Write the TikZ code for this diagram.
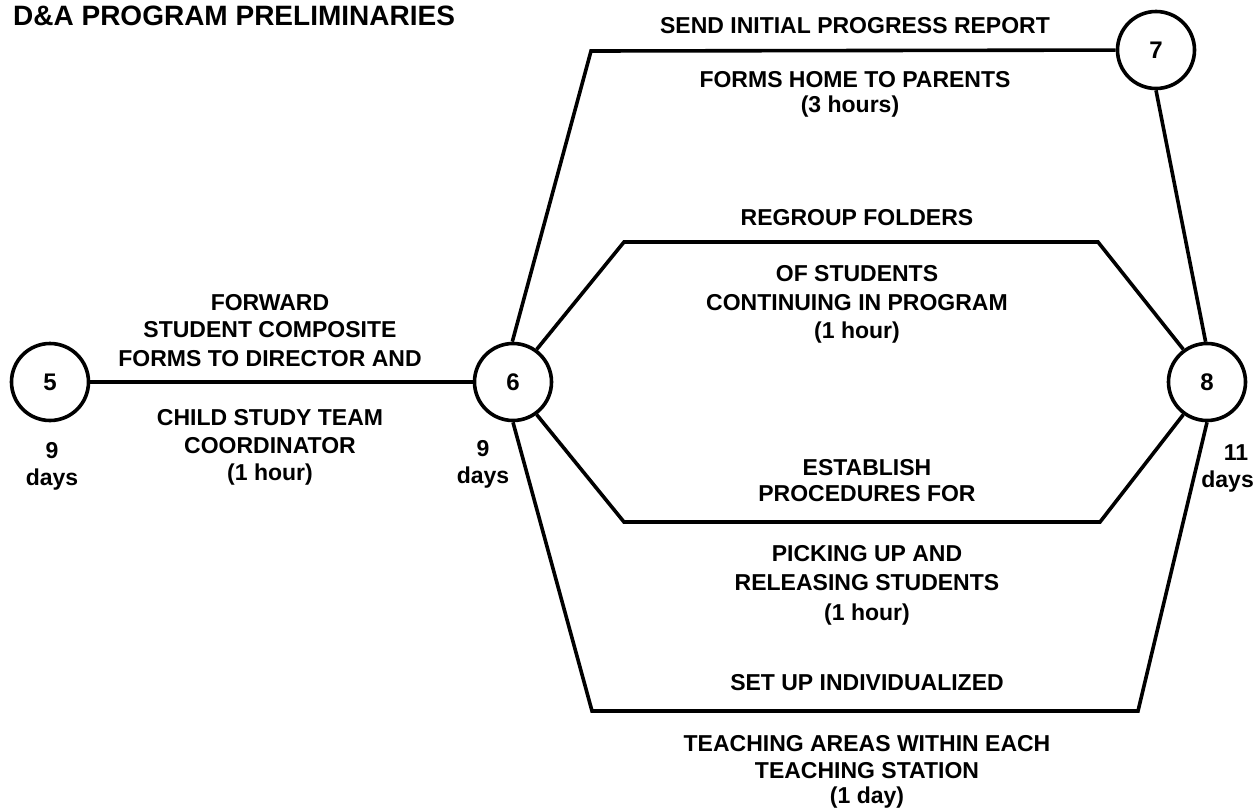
\documentclass[tikz,border=0pt]{standalone}
\usepackage{fontspec}
\setmainfont{Liberation Sans}
\begin{document}
\begin{tikzpicture}[x=1pt,y=-1pt,
  event/.style={circle,draw,line width=3.6pt,minimum size=77pt,inner sep=0pt,
    font=\fontsize{24}{24}\selectfont\bfseries},
  link/.style={line width=3.6pt},
  lbl/.style={font=\fontsize{23}{23}\selectfont\bfseries,anchor=base,inner sep=0pt},
  ttl/.style={font=\fontsize{28}{28}\selectfont\bfseries,anchor=base west,inner sep=0pt},
]
\useasboundingbox (0,0) rectangle (1256,809);

% title
\node[ttl] (title) at (13,25) {D\&A PROGRAM PRELIMINARIES};

% events
\node[event] (n5) at (50,382) {5};
\node[event] (n6) at (513,382) {6};
\node[event] (n7) at (1156,50) {7};
\node[event] (n8) at (1207,382) {8};

% event times
\node[lbl] (d5a) at (52,458) {9};
\node[lbl] (d5b) at (52,485) {days};
\node[lbl] (d6a) at (483,456) {9};
\node[lbl] (d6b) at (483,483) {days};
\node[lbl] (d8a) at (1236,460) {11};
\node[lbl,anchor=base east] (d8b) at (1254,487) {days};

% bend points of the activity paths
\coordinate (c1) at (591,51);
\coordinate (u1) at (624,242);
\coordinate (u2) at (1098,242);
\coordinate (l1) at (624,522);
\coordinate (l2) at (1100,522);
\coordinate (b1) at (592,711);
\coordinate (b2) at (1138,711);

% activities
\draw[link] (n5) -- (n6);
\draw[link] (n6.91) -- (c1) -- (n7);
\draw[link] (n7.-90) -- (n8.92);
\draw[link] (n6.54) -- (u1) -- (u2) -- (n8.126);
\draw[link] (n6.-54) -- (l1) -- (l2) -- (n8.-126);
\draw[link] (n6.-90) -- (b1) -- (b2) -- (n8.-90);

% activity 5-6
\node[lbl] (a1) at (270,310) {FORWARD};
\node[lbl] (a2) at (270,337) {STUDENT COMPOSITE};
\node[lbl] (a3) at (270,366) {FORMS TO DIRECTOR AND};
\node[lbl] (a4) at (270,425) {CHILD STUDY TEAM};
\node[lbl] (a5) at (270,453) {COORDINATOR};
\node[lbl] (a6) at (270,480) {(1 hour)};

% activity 6-7
\node[lbl] (b1t) at (855,33) {SEND INITIAL PROGRESS REPORT};
\node[lbl] (b2t) at (855,87) {FORMS HOME TO PARENTS};
\node[lbl] (b3t) at (850,112) {(3 hours)};

% activity 6-8, upper
\node[lbl] (c1t) at (857,225) {REGROUP FOLDERS};
\node[lbl] (c2t) at (857,281) {OF STUDENTS};
\node[lbl] (c3t) at (857,310) {CONTINUING IN PROGRAM};
\node[lbl] (c4t) at (857,338) {(1 hour)};

% activity 6-8, lower
\node[lbl] (e1t) at (867,475) {ESTABLISH};
\node[lbl] (e2t) at (867,501) {PROCEDURES FOR};
\node[lbl] (e3t) at (867,561) {PICKING UP AND};
\node[lbl] (e4t) at (867,590) {RELEASING STUDENTS};
\node[lbl] (e5t) at (867,620) {(1 hour)};

% activity 6-8, bottom
\node[lbl] (f1t) at (867,690) {SET UP INDIVIDUALIZED};
\node[lbl] (f2t) at (867,751) {TEACHING AREAS WITHIN EACH};
\node[lbl] (f3t) at (867,778) {TEACHING STATION};
\node[lbl] (f4t) at (867,803) {(1 day)};
\end{tikzpicture}
\end{document}
